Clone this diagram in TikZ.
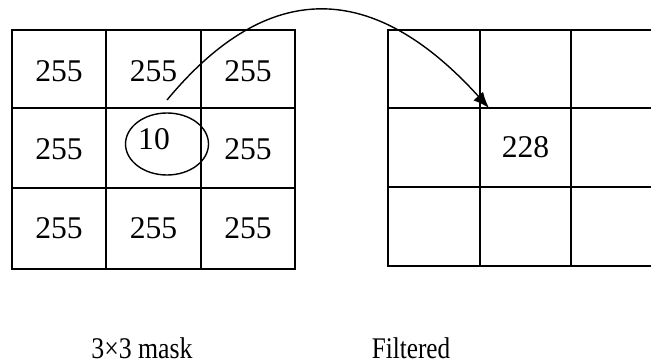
\documentclass[tikz,border=0pt]{standalone}
\usepackage{fontspec}
\setmainfont{Liberation Serif}
\usetikzlibrary{arrows.meta,shapes.geometric}

\begin{document}
\begin{tikzpicture}[x=0.5pt,y=-0.5pt]
    \tikzset{
        val/.style={font=\fontsize{15.8}{18}\selectfont,inner sep=0pt},
        caption/.style={font=\fontsize{15}{18}\selectfont,inner sep=0pt},
        cell line/.style={line width=1.1pt},
        ring/.style={draw,ellipse,line width=0.7pt,
            minimum width=41.5pt,minimum height=31pt,inner sep=0pt},
        move/.style={-{Latex[length=8pt,width=6.5pt]},line width=0.7pt}
    }
    \useasboundingbox (0,0) rectangle (651,363);

    % 3x3 mask
    \draw[cell line] (12,30) rectangle (295,269);
    \draw[cell line] (106,30) -- (106,269) (201,30) -- (201,269);
    \draw[cell line] (12,108) -- (295,108) (12,188) -- (295,188);

    \node[val] (m11) at (59,71) {255};
    \node[val] (m12) at (153.5,71) {255};
    \node[val] (m13) at (248,71) {255};
    \node[val] (m21) at (59,149) {255};
    \node[val] (m22) at (154,139) {10};
    \node[val] (m23) at (248,149) {255};
    \node[val] (m31) at (59,228) {255};
    \node[val] (m32) at (153.5,228) {255};
    \node[val] (m33) at (248,228) {255};
    \node[ring] (hole) at (167,144) {};

    % filtered
    \draw[cell line] (651,30) -| (388,266) -- (651,266);
    \draw[cell line] (480,30) -- (480,266) (571,30) -- (571,266);
    \draw[cell line] (388,108) -- (651,108) (388,187) -- (651,187);

    \node[val] (f22) at (525.5,147.5) {228};

    \coordinate (from) at (167,100);
    \coordinate (to) at (489,108);
    \draw[move] (from) .. controls (269,-23) and (374,-19) .. (to);

    \node[caption] (maskcap) at (142,348) {\scalebox{0.86}[1]{3×3 mask}};
    \node[caption] (filtcap) at (411,348) {\scalebox{0.84}[1]{Filtered}};
\end{tikzpicture}
\end{document}
